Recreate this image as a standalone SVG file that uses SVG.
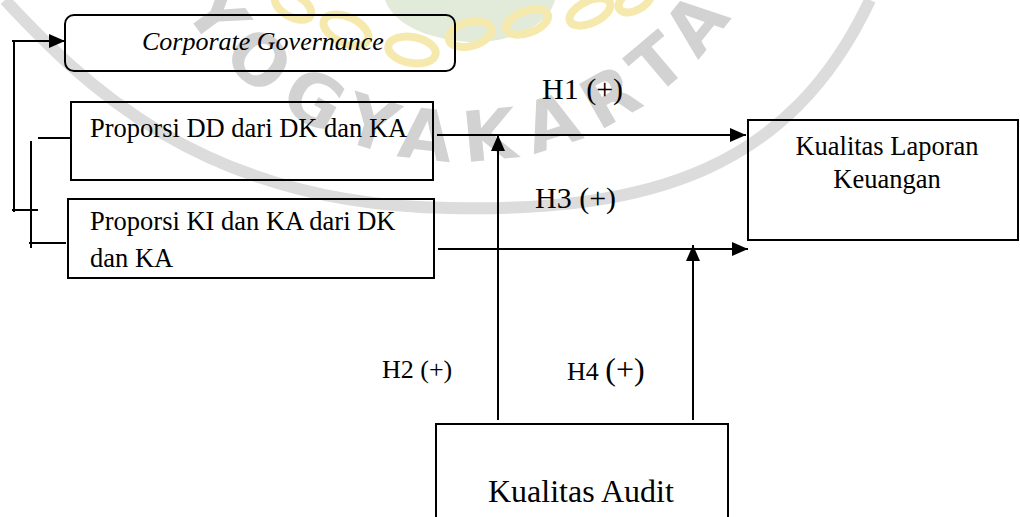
<svg xmlns="http://www.w3.org/2000/svg" width="1020" height="517" viewBox="0 0 1020 517">
  <style>
    .box { fill: none; stroke: #000; stroke-width: 2; }
    .ln { fill: none; stroke: #000; stroke-width: 2; }
    .t { font-family: "Liberation Serif", "Times New Roman", serif; fill: #000; }
    .wm { font-family: "DejaVu Sans", sans-serif; font-weight: bold; fill: #d2d2d2; }
  </style>
  <defs>
    <marker id="arr" markerUnits="userSpaceOnUse" markerWidth="17" markerHeight="15" refX="16" refY="7" orient="auto">
      <path d="M0,0 L16,7 L0,14 Z" fill="#000"/>
    </marker>
    <path id="wmArc" d="M 153 -53 A 327 327 0 0 0 767 -53"/>
  </defs>
  <rect width="1020" height="517" fill="#fff"/>

  <g id="watermark">
    <path d="M 385 0 L 555 0 C 548 28, 505 44, 470 42 C 435 40, 395 28, 385 0 Z" fill="#e2ebd9"/>
    <g fill="none" stroke="#f6e9ae" stroke-width="8">
      <ellipse cx="293" cy="6" rx="20" ry="11" transform="rotate(30 293 6)"/>
      <ellipse cx="346" cy="30" rx="24" ry="13" transform="rotate(25 346 30)"/>
      <ellipse cx="412" cy="50" rx="24" ry="13" transform="rotate(10 412 50)"/>
      <ellipse cx="470" cy="34" rx="22" ry="12" transform="rotate(-15 470 34)"/>
      <ellipse cx="527" cy="22" rx="22" ry="11" transform="rotate(-20 527 22)"/>
      <ellipse cx="590" cy="12" rx="22" ry="11" transform="rotate(-25 590 12)"/>
      <ellipse cx="635" cy="0" rx="18" ry="10" transform="rotate(-30 635 0)"/>
    </g>
    <path d="M 5 0 C 80 80, 200 205, 450 208 C 650 212, 790 170, 870 0" fill="none" stroke="#dcdcdc" stroke-width="12"/>
    <text class="wm" font-size="70"><textPath href="#wmArc" startOffset="68" textLength="650" lengthAdjust="spacing">YOGYAKARTA</textPath></text>
  </g>

  <g id="connectors">
    <line class="ln" x1="14" y1="41" x2="14" y2="212"/>
    <line class="ln" x1="12" y1="41" x2="65" y2="41" marker-end="url(#arr)"/>
    <line class="ln" x1="12" y1="210" x2="38" y2="210"/>
    <line class="ln" x1="31" y1="141" x2="31" y2="248"/>
    <line class="ln" x1="38" y1="138" x2="71" y2="138"/>
    <line class="ln" x1="29" y1="243" x2="66" y2="243"/>
    <line class="ln" x1="437" y1="135" x2="746" y2="135" marker-end="url(#arr)"/>
    <line class="ln" x1="438" y1="249" x2="748" y2="249" marker-end="url(#arr)"/>
    <line class="ln" x1="498" y1="420" x2="498" y2="135" marker-end="url(#arr)"/>
    <line class="ln" x1="693" y1="420" x2="693" y2="245" marker-end="url(#arr)"/>
  </g>

  <g id="labels">
    <text class="t" x="542" y="99" font-size="30">H1 (+)</text>
    <text class="t" x="535" y="208" font-size="30">H3 (+)</text>
    <text class="t" x="382" y="378" font-size="26">H2 (+)</text>
    <text class="t" x="567" y="380" font-size="26">H4 <tspan font-size="32">(+)</tspan></text>
  </g>

  <g id="node-cg">
    <rect class="box" x="65" y="15" width="390" height="56" rx="9"/>
    <text class="t" x="142" y="50" font-size="26" font-style="italic">Corporate Governance</text>
  </g>

  <g id="node-dd">
    <rect class="box" x="71" y="102" width="362" height="78"/>
    <text class="t" x="90" y="137" font-size="26.5">Proporsi DD dari DK dan KA</text>
  </g>

  <g id="node-ki">
    <rect class="box" x="68" y="199" width="366" height="79"/>
    <text class="t" x="90" y="230" font-size="26.5">Proporsi KI dan KA dari DK</text>
    <text class="t" x="90" y="267" font-size="26.5">dan KA</text>
  </g>

  <g id="node-klk">
    <rect class="box" x="748" y="120" width="270" height="120"/>
    <text class="t" x="887" y="155" font-size="26.5" text-anchor="middle">Kualitas Laporan</text>
    <text class="t" x="887" y="188" font-size="26.5" text-anchor="middle">Keuangan</text>
  </g>

  <g id="node-audit">
    <rect class="box" x="436" y="424" width="292" height="100"/>
    <text class="t" x="488" y="502" font-size="32">Kualitas Audit</text>
  </g>
</svg>
